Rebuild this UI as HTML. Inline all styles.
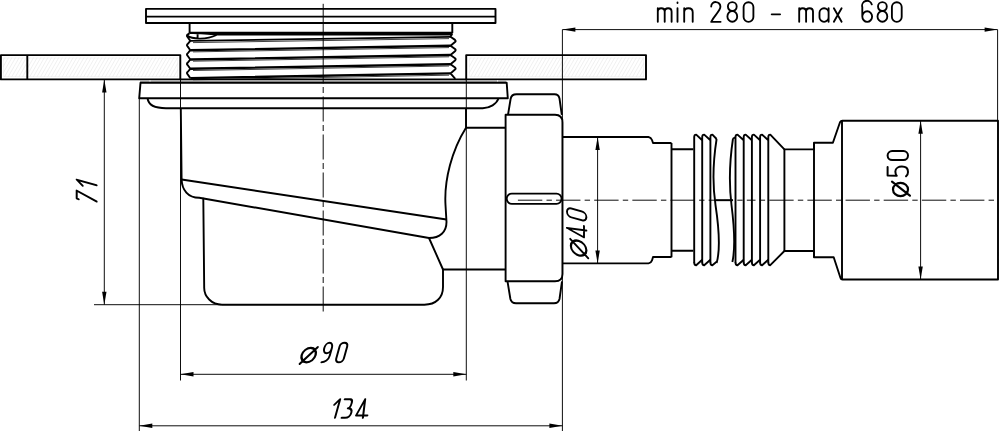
<!DOCTYPE html>
<html><head><meta charset="utf-8">
<style>
html,body{margin:0;padding:0;background:#fff;width:1000px;height:431px;overflow:hidden}
svg{display:block}
.k{stroke:#000;stroke-width:1.9;fill:none;stroke-linejoin:round}
.t{stroke:#000;stroke-width:0.95;fill:none}
.c{stroke:#000;stroke-width:0.95;fill:none}
.h{stroke:#f0f0f0;stroke-width:0.7;fill:none}
text{font-family:"Liberation Sans",sans-serif;fill:#000}
</style></head><body>
<svg width="1000" height="431" viewBox="0 0 1000 431">
<defs>
<clipPath id="cl1"><rect x="3" y="57.5" width="175" height="19.5"/></clipPath>
<clipPath id="cl2"><rect x="469" y="57.5" width="175" height="19.5"/></clipPath>
</defs>
<!-- faint hatching in floor plates -->
<rect x="3.5" y="58" width="174" height="18.5" fill="none" stroke="#f3f3f3" stroke-width="0.7"/><rect x="469.5" y="58" width="174" height="18.5" fill="none" stroke="#f3f3f3" stroke-width="0.7"/>
<g stroke="#e9e9e9" stroke-width="0.7" fill="none" clip-path="url(#cl1)"><path id="hp" d="M-20.0,82 l16,-28 M-16.4,82 l16,-28 M-12.8,82 l16,-28 M-9.2,82 l16,-28 M-5.6,82 l16,-28 M-2.0,82 l16,-28 M1.6,82 l16,-28 M5.2,82 l16,-28 M8.8,82 l16,-28 M12.4,82 l16,-28 M16.0,82 l16,-28 M19.6,82 l16,-28 M23.2,82 l16,-28 M26.8,82 l16,-28 M30.4,82 l16,-28 M34.0,82 l16,-28 M37.6,82 l16,-28 M41.2,82 l16,-28 M44.8,82 l16,-28 M48.4,82 l16,-28 M52.0,82 l16,-28 M55.6,82 l16,-28 M59.2,82 l16,-28 M62.8,82 l16,-28 M66.4,82 l16,-28 M70.0,82 l16,-28 M73.6,82 l16,-28 M77.2,82 l16,-28 M80.8,82 l16,-28 M84.4,82 l16,-28 M88.0,82 l16,-28 M91.6,82 l16,-28 M95.2,82 l16,-28 M98.8,82 l16,-28 M102.4,82 l16,-28 M106.0,82 l16,-28 M109.6,82 l16,-28 M113.2,82 l16,-28 M116.8,82 l16,-28 M120.4,82 l16,-28 M124.0,82 l16,-28 M127.6,82 l16,-28 M131.2,82 l16,-28 M134.8,82 l16,-28 M138.4,82 l16,-28 M142.0,82 l16,-28 M145.6,82 l16,-28 M149.2,82 l16,-28 M152.8,82 l16,-28 M156.4,82 l16,-28 M160.0,82 l16,-28 M163.6,82 l16,-28 M167.2,82 l16,-28 M170.8,82 l16,-28 M174.4,82 l16,-28 M178.0,82 l16,-28 M181.6,82 l16,-28 M185.2,82 l16,-28 M188.8,82 l16,-28 M192.4,82 l16,-28"/></g>
<g stroke="#e9e9e9" stroke-width="0.7" fill="none" clip-path="url(#cl2)"><use href="#hp" x="466"/></g>

<!-- grate -->
<rect class="k" x="146" y="8.9" width="349.5" height="14.1"/>
<line class="k" x1="146" y1="16.6" x2="495.5" y2="16.6"/>

<!-- floor plates -->
<rect class="k" x="0.9" y="55.1" width="179.4" height="24.3"/>
<line class="k" x1="27.3" y1="55.1" x2="27.3" y2="79.4"/>
<rect class="k" x="466.2" y="55.1" width="179.8" height="24.3"/>

<!-- thread -->
<path class="k" d="M189.6,23 V33 M452.3,23 V33"/>
<path fill="#000" d="M189.6,31.8 H452.3 V35.4 H216 C210,34.8 200,34.4 189.6,34 Z"/>
<path stroke="#000" stroke-width="1.7" fill="none" d="M190.3,40.9 L450.5,36.8"/>
<path stroke="#000" stroke-width="2.4" fill="none" d="M190.3,50.2 L450.5,45.8 M190.3,59.5 L450.5,55 M190.3,68.8 L450.5,64.2 M190.3,78.1 L450.5,73.4"/>
<path stroke="#444" stroke-width="1" fill="none" d="M193,42.6 L449,38.6 M193,51.9 L449,47.6 M193,61.2 L449,56.8 M193,70.5 L449,66 M193,79.8 L449,75.2"/>
<path class="k" stroke-width="1.8" d="M189.6,33.2 L187.6,34.6 Q186.4,35.6 187.4,36.8 L190.3,40.9 L187.6,44.1 Q186.3,45.2 187.6,46.4 L190.3,50.2 L187.6,53.5 Q186.3,54.6 187.6,55.7 L190.3,59.5 L187.6,62.8 Q186.3,63.9 187.6,65.0 L190.3,68.8 L187.6,72.0 Q186.3,73.1 187.6,74.2 L190.3,78.1 "/>
<path class="k" stroke-width="1.8" d="M452.3,33.4 L450.5,36.8 L455,39.9 Q456.3,41.0 455,42.1 L450.5,45.8 L455,49.0 Q456.3,50.1 455,51.2 L450.5,55 L455,58.2 Q456.3,59.3 455,60.4 L450.5,64.2 L455,67.4 Q456.3,68.5 455,69.6 L450.5,73.4 L455.3,78.8"/>
<path class="k" stroke-width="1.7" d="M187.2,35.6 C192,39.6 207,39.8 216.5,35 M197.6,34.2 V38.6"/>
<line x1="140" y1="81.2" x2="506" y2="81.2" stroke="#888" stroke-width="0.9"/>
<line class="k" x1="180" y1="79.4" x2="466.2" y2="79.4"/>
<path stroke="#fff" stroke-width="1" d="M150,80.3 V82 M497.6,80.3 V82"/>

<!-- rim -->
<path class="k" d="M140.5,82.8 L506.7,82.8 L507.8,98.3 L139.2,98.3 Z"/>

<!-- body -->
<path class="k" d="M147.6,98.5 C148.5,105 154,108.2 166,108.2 L482.7,108.2 C490,108 496.5,104 498.5,98.5"/>
<path class="k" d="M180.8,108 L181.6,179.5 C182,190 188,197.7 199.2,197.7 L429,238 C440,238 446.5,232 446.5,222 L445.5,205 C444,180 452,150 466,127.7"/>
<path class="k" d="M181.6,179.5 L446.5,219.5"/>
<path class="k" d="M429,238 L443,269.5 L443,287 C443,297.5 436,304.7 424.4,304.7 L222,304.7 C211.5,304.7 204.2,296.5 204.2,288 L203.3,197.7"/>
<path class="k" d="M443,269.5 H505.6 M466,108 V127.7 H505.6"/>

<!-- nut -->
<path class="k" d="M508,114.8 L510.6,99 Q511.4,94.3 516.5,94.3 L554.5,94.3 Q558.6,94.3 559.5,98.5 L561.8,114.8"/>
<path class="k" d="M505.6,281.3 L505.6,114.8 L555,114.8 Q562.5,114.8 562.5,122.5 L562.5,274 Q562.5,281.3 555,281.3 Z"/>
<rect class="k" x="506.7" y="193.6" width="54.9" height="10.3" rx="5.15"/>
<path class="k" d="M507.5,281.3 L510.4,299 Q511.5,303.3 516,303.3 L554,303.3 Q558.5,303.3 559.5,299 L562,281.3"/>

<!-- pipe -->
<path class="k" d="M562.6,137 L648.5,137 Q651,137.4 652,140 L653,143 L671.5,143 M562.6,263.4 L648.5,263.4 Q651,263 652,260.4 L653,257 L671.5,257 M671.5,143 V257.2 M671.5,149.3 H693.4 M671.5,250.8 H693.4"/>

<!-- hose -->
<path class="k" d="M694.2,263 V137 Q694.2,134.6 696.2,134.6 L702.2,140.3 M702.2,263 V137 Q702.2,134.6 704.2,134.6 L710.4,140.3 M710.4,263 V137 Q710.4,134.6 712.4,134.6 L716.6,139"/>
<path class="k" d="M694.2,262.5 Q694.2,265.2 696.2,265.2 L702.2,259.8 M702.2,262.5 Q702.2,265.2 704.2,265.2 L710.4,259.8 M710.4,262.5 Q710.4,265.2 712.4,265.2 L716.6,261.8"/>
<path class="k" d="M716.6,139 C712.5,165 712.5,185 715.5,205 C718.5,225 721,248 716.6,263"/>
<path class="k" d="M733,138.5 L735.5,137.3 M733,138.5 C729,165 729,185 731.5,205 C734,225 735.5,248 732.4,262"/>
<path class="k" d="M735.5,263 V137 Q735.5,134.6 737.5,134.6 L743.7,140.3 M743.7,263 V137 Q743.7,134.6 745.7,134.6 L751.9,140.3 M751.9,263 V137 Q751.9,134.6 753.9,134.6 L760.1,140.3 M760.1,263 V137 Q760.1,134.6 762.1,134.6 L768.3,140.3 M768.3,263 V137 Q768.3,134.6 770.3,134.6 L784.4,149.4"/>
<path class="k" d="M735.5,262.5 Q735.5,265.2 737.5,265.2 L743.7,259.8 M743.7,262.5 Q743.7,265.2 745.7,265.2 L751.9,259.8 M751.9,262.5 Q751.9,265.2 753.9,265.2 L760.1,259.8 M760.1,262.5 Q760.1,265.2 762.1,265.2 L768.3,259.8 M768.3,262.5 Q768.3,265.2 770.3,265.2 L784.4,251"/>

<!-- socket -->
<path class="k" d="M784.4,149.4 H814 V142.8 H832.9 L840,122.2 Q840.8,120.8 842.4,120.8 H998 V279.5 H842.4 Q841,279.5 840.6,278.3 L833.7,257.2 H814 V251 H784.4 Z"/>
<path class="k" d="M814,142.8 V257.2 M842,120.8 V279.5"/>

<!-- extension lines -->
<path class="t" d="M562.4,29.6 V431 M997.6,29.6 V121 M139.3,98.3 V431 M180.5,79.4 V380.5 M466.3,79.4 V380.5 M94,304.7 H221 M104.3,79.4 V304.7 M180.5,374.3 H466.3 M139.3,425.8 H562.4 M562.4,29.6 H997.6 M597.6,137 V263.4 M920.6,120.8 V279.5"/>
<!-- arrowheads -->
<g fill="#000">
<path d="M562.4,29.6 L575.40,31.80 L575.40,27.40 Z"/>
<path d="M997.6,29.6 L984.60,27.40 L984.60,31.80 Z"/>
<path d="M104.3,79.4 L102.10,92.40 L106.50,92.40 Z"/>
<path d="M104.3,304.7 L106.50,291.70 L102.10,291.70 Z"/>
<path d="M180.5,374.3 L193.50,376.50 L193.50,372.10 Z"/>
<path d="M466.3,374.3 L453.30,372.10 L453.30,376.50 Z"/>
<path d="M139.3,425.8 L152.30,428.00 L152.30,423.60 Z"/>
<path d="M562.4,425.8 L549.40,423.60 L549.40,428.00 Z"/>
<path d="M597.6,137 L595.40,150.00 L599.80,150.00 Z"/>
<path d="M597.6,263.4 L599.80,250.40 L595.40,250.40 Z"/>
<path d="M920.6,120.8 L918.40,133.80 L922.80,133.80 Z"/>
<path d="M920.6,279.5 L922.80,266.50 L918.40,266.50 Z"/>
</g>

<!-- center lines -->
<line class="c" x1="323.2" y1="3.8" x2="323.2" y2="83.5"/>
<line class="c" x1="323.2" y1="83.5" x2="323.2" y2="311.5" stroke-dasharray="25 3.5 6 3.5" stroke-dashoffset="25"/>
<line class="c" x1="517.9" y1="200.2" x2="750" y2="200.2" stroke-dasharray="24.4 4.2 5.4 4.15"/>
<line class="c" x1="750" y1="200.2" x2="997.6" y2="200.2" stroke-dasharray="24.4 4.2 5.4 4.15" stroke-dashoffset="18.9"/>
<line class="k" x1="715.5" y1="200.2" x2="733" y2="200.2" stroke-width="1.2"/>

<!-- texts -->
<g transform="translate(0,21.8)"><g transform="matrix(1,0,-0.0000,1,0,0)" fill="none" stroke="#000" stroke-width="1.85" stroke-linecap="round" stroke-linejoin="round"><path transform="translate(657.80,0)" d="M0,0 V-13.50 M0,-10.00 C0,-12.50 1.2,-13.50 3.45,-13.50 C5.70,-13.50 6.90,-12.50 6.90,-10.00 V0 M6.90,-10.00 C6.90,-12.50 8.10,-13.50 10.35,-13.50 C12.60,-13.50 13.80,-12.50 13.80,-10.00 V0"/><path transform="translate(677.50,0)" d="M0,0 V-13.50 M0,-18.80 V-19.40"/><path transform="translate(684.20,0)" d="M0,0 V-13.50 M0,-9.50 C0,-12.20 1.8,-13.50 4.25,-13.50 C6.70,-13.50 8.50,-12.20 8.50,-9.50 V0"/><path transform="translate(711.20,0)" d="M0,-15.30 A4.60,4.60 0 0 1 9.20,-15.00 C9.20,-11.00 2.76,-5.88 0,0 H9.40"/><path transform="translate(727.40,0)" d="M4.90,-19.60 A4.40,4.41 0 1 1 4.90,-10.78 A4.40,4.41 0 1 1 4.90,-19.60 Z M4.90,-10.78 A4.90,5.39 0 1 1 4.90,0.00 A4.90,5.39 0 1 1 4.90,-10.78 Z"/><path transform="translate(743.60,0)" d="M0,-14.70 A4.90,4.90 0 0 1 9.80,-14.70 V-4.90 A4.90,4.90 0 0 1 0,-4.90 Z"/><path transform="translate(771.70,0)" d="M0,-7.43 H8.40"/><path transform="translate(799.20,0)" d="M0,0 V-13.50 M0,-10.00 C0,-12.50 1.2,-13.50 3.45,-13.50 C5.70,-13.50 6.90,-12.50 6.90,-10.00 V0 M6.90,-10.00 C6.90,-12.50 8.10,-13.50 10.35,-13.50 C12.60,-13.50 13.80,-12.50 13.80,-10.00 V0"/><path transform="translate(819.50,0)" d="M9.10,-13.50 V0 M9.10,-4.55 A4.55,4.55 0 0 1 0,-4.55 V-8.95 A4.55,4.55 0 0 1 9.10,-8.95"/><path transform="translate(833.90,0)" d="M0,-13.50 L7.70,0 M7.70,-13.50 L0,0"/><path transform="translate(862.30,0)" d="M9.50,-17.40 A4.90,4.90 0 0 0 0,-14.70 V-5.29 A4.90,5.29 0 0 0 9.80,-5.29 A4.90,5.29 0 0 0 0,-5.29"/><path transform="translate(877.50,0)" d="M4.90,-19.60 A4.40,4.41 0 1 1 4.90,-10.78 A4.40,4.41 0 1 1 4.90,-19.60 Z M4.90,-10.78 A4.90,5.39 0 1 1 4.90,0.00 A4.90,5.39 0 1 1 4.90,-10.78 Z"/><path transform="translate(891.90,0)" d="M0,-14.70 A4.90,4.90 0 0 1 9.80,-14.70 V-4.90 A4.90,4.90 0 0 1 0,-4.90 Z"/></g></g>
<g transform="translate(0,362.3)"><g transform="matrix(1,0,-0.2773,1,0,0)" fill="none" stroke="#000" stroke-width="2.0" stroke-linecap="round" stroke-linejoin="round"><path transform="translate(299.70,0)" stroke-width="2.3" d="M6.95,-14.50 A6.95,7.25 0 1 1 6.95,0 A6.95,7.25 0 1 1 6.95,-14.50 Z M0.56,1.50 L13.76,-15.10"/><path transform="translate(320.30,0)" d="M1.2,0 C4.56,0 7.60,-2.5 7.60,-6.5 V-14.31 A3.80,5.29 0 0 0 0,-14.31 A3.80,5.29 0 0 0 7.60,-14.31"/><path transform="translate(335.20,0)" d="M0,-15.80 A3.80,3.80 0 0 1 7.60,-15.80 V-3.80 A3.80,3.80 0 0 1 0,-3.80 Z"/></g></g>
<g transform="translate(0,417.8)"><g transform="matrix(1,0,-0.2773,1,0,0)" fill="none" stroke="#000" stroke-width="2.0" stroke-linecap="round" stroke-linejoin="round"><path transform="translate(330.60,0)" d="M0,-13.02 L4.40,-18.60 V0"/><path transform="translate(341.60,0)" d="M-2.00,-18.60 H3.40 C5.50,-18.60 6.00,-17.10 6.00,-15.10 C6.00,-11.60 5.00,-9.67 3.60,-9.67 C7.00,-9.67 8.30,-7.81 8.30,-5.02 C8.30,-2 6.50,0 3.50,0 H0"/><path transform="translate(355.40,0)" d="M4.60,-18.60 L0,-2.4 H11.30 M4.60,-18.60 L7.50,0"/></g></g>
<g transform="translate(96.6,204.1) rotate(-90)"><g transform="matrix(1,0,-0.2773,1,0,0)" fill="none" stroke="#000" stroke-width="2.0" stroke-linecap="round" stroke-linejoin="round"><path transform="translate(0.00,0)" d="M0,-17.90 V-19.90 H7.90 L2.61,0"/><path transform="translate(14.50,0)" d="M0,-13.93 L4.40,-19.90 V0"/></g></g>
<g transform="translate(586.4,255.8) rotate(-90)"><g transform="matrix(1,0,-0.2773,1,0,0)" fill="none" stroke="#000" stroke-width="1.9" stroke-linecap="round" stroke-linejoin="round"><path transform="translate(-1.70,0)" stroke-width="2.2" d="M7.25,-15.50 A7.25,7.75 0 1 1 7.25,0 A7.25,7.75 0 1 1 7.25,-15.50 Z M-0.10,1.70 L14.01,-16.00"/><path transform="translate(17.80,0)" d="M4.60,-19.40 L0,-2.4 H11.30 M4.60,-19.40 L7.50,0"/><path transform="translate(34.30,0)" d="M0,-15.00 A4.40,4.40 0 0 1 8.80,-15.00 V-4.40 A4.40,4.40 0 0 1 0,-4.40 Z"/></g></g>
<g transform="translate(908.0,195.8) rotate(-90)"><g transform="matrix(1,0,-0.0000,1,0,0)" fill="none" stroke="#000" stroke-width="2.0" stroke-linecap="round" stroke-linejoin="round"><path transform="translate(-0.30,0)" stroke-width="2.2" d="M6.65,-15.00 A6.65,7.50 0 1 1 6.65,0 A6.65,7.50 0 1 1 6.65,-15.00 Z M0.40,1.90 L14.36,-16.00"/><path transform="translate(19.50,0)" d="M9.40,-20.40 H0.8 L0.5,-11.22 C1.8,-12.24 3.2,-12.65 4.85,-12.65 C8.24,-12.65 9.70,-9.18 9.70,-6.12 C9.70,-2.04 7.76,0 4.37,0 C2.5,0 0.8,-0.8 0,-2"/><path transform="translate(35.70,0)" d="M0,-15.85 A4.55,4.55 0 0 1 9.10,-15.85 V-4.55 A4.55,4.55 0 0 1 0,-4.55 Z"/></g></g>
</svg>
</body></html>
